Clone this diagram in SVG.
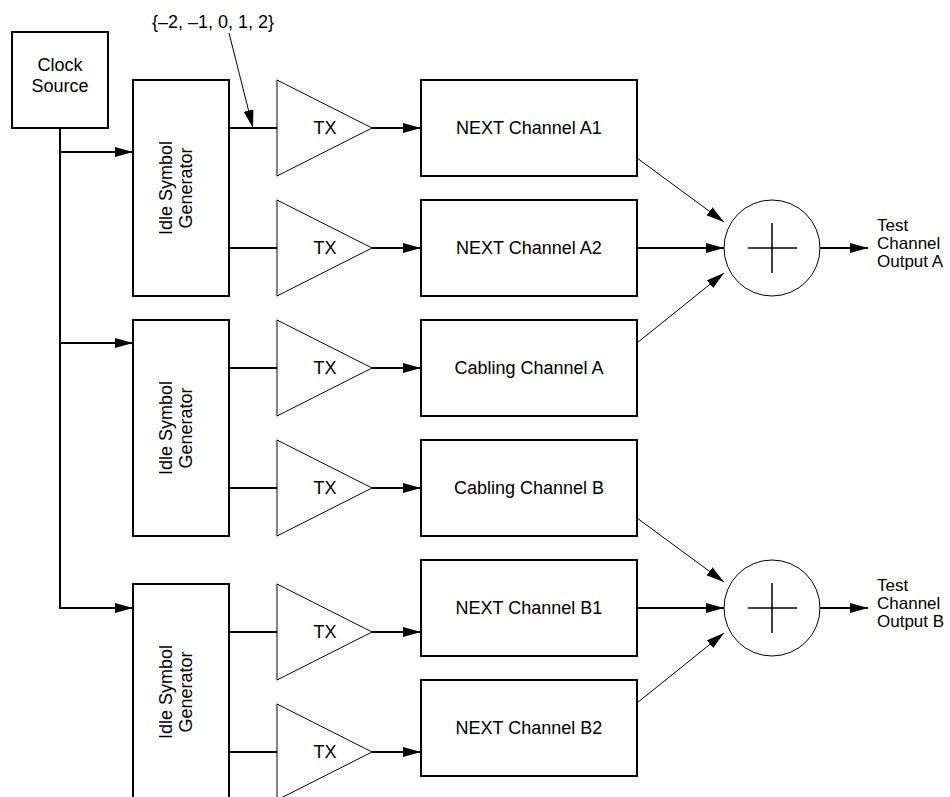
<svg xmlns="http://www.w3.org/2000/svg" width="950" height="797" viewBox="0 0 950 797">
<style>
  .box { fill: #fff; stroke: #000; stroke-width: 2; }
  .tri { fill: #fff; stroke: #000; stroke-width: 1; }
  .sum { fill: #fff; stroke: #000; stroke-width: 1; }
  .plus { stroke: #000; stroke-width: 1.5; fill: none; }
  .w { fill: none; stroke: #000; stroke-width: 2; }
  .t { fill: none; stroke: #000; stroke-width: 1; }
  .a { marker-end: url(#ah); }
  text { font-family: "Liberation Sans", Arial, sans-serif; font-size: 18px; fill: #000; }
  .c { text-anchor: middle; }
  .o { font-size: 17px; }
</style>
<defs>
  <marker id="ah" viewBox="0 0 18 10" refX="18" refY="5" markerWidth="18" markerHeight="10" markerUnits="userSpaceOnUse" orient="auto">
    <path d="M0,0 L18,5 L0,10 z" fill="#000"/>
  </marker>
</defs>

<g id="connectors">
  <path class="w" d="M60,128 V608 H133"/>
  <path class="w a" d="M60,608 H133"/>
  <path class="w a" d="M60,152 H133"/>
  <path class="w a" d="M60,343 H133"/>
  <path class="w" d="M229,128 H277 M229,248 H277 M229,368 H277 M229,488 H277 M229,632 H277 M229,752 H277"/>
  <path class="w a" d="M372,128 H421"/>
  <path class="w a" d="M372,248 H421"/>
  <path class="w a" d="M372,368 H421"/>
  <path class="w a" d="M372,488 H421"/>
  <path class="w a" d="M372,632 H421"/>
  <path class="w a" d="M372,752 H421"/>
  <path class="t a" d="M637,158 L724,222"/>
  <path class="w a" d="M637,248 H724"/>
  <path class="t a" d="M637,343 L724,273"/>
  <path class="t a" d="M637,518 L724,582"/>
  <path class="w a" d="M637,608 H724"/>
  <path class="t a" d="M637,703 L724,633"/>
  <path class="w a" d="M820,248 H868"/>
  <path class="w a" d="M820,608 H868"/>
  <path class="t a" d="M229,33 L253,128"/>
</g>

<g id="clock">
  <rect class="box" x="12" y="32" width="96" height="96"/>
  <text class="c" x="60" y="71">Clock</text>
  <text class="c" x="60" y="92">Source</text>
</g>

<g id="gen1">
  <rect class="box" x="133" y="80" width="96" height="216"/>
  <g transform="translate(181,188) rotate(-90)">
    <text class="c" x="0" y="-9">Idle Symbol</text>
    <text class="c" x="0" y="11">Generator</text>
  </g>
</g>
<g id="gen2">
  <rect class="box" x="133" y="320" width="96" height="216"/>
  <g transform="translate(181,428) rotate(-90)">
    <text class="c" x="0" y="-9">Idle Symbol</text>
    <text class="c" x="0" y="11">Generator</text>
  </g>
</g>
<g id="gen3">
  <rect class="box" x="133" y="584" width="96" height="216"/>
  <g transform="translate(181,692) rotate(-90)">
    <text class="c" x="0" y="-9">Idle Symbol</text>
    <text class="c" x="0" y="11">Generator</text>
  </g>
</g>

<g id="tx1"><polygon class="tri" points="277,80 372,128 277,176"/><text class="c" x="325" y="134">TX</text></g>
<g id="tx2"><polygon class="tri" points="277,200 372,248 277,296"/><text class="c" x="325" y="254">TX</text></g>
<g id="tx3"><polygon class="tri" points="277,320 372,368 277,416"/><text class="c" x="325" y="374">TX</text></g>
<g id="tx4"><polygon class="tri" points="277,440 372,488 277,536"/><text class="c" x="325" y="494">TX</text></g>
<g id="tx5"><polygon class="tri" points="277,584 372,632 277,680"/><text class="c" x="325" y="638">TX</text></g>
<g id="tx6"><polygon class="tri" points="277,704 372,752 277,800"/><text class="c" x="325" y="758">TX</text></g>

<g id="nextA1"><rect class="box" x="421" y="80" width="216" height="96"/><text class="c" x="529" y="134">NEXT Channel A1</text></g>
<g id="nextA2"><rect class="box" x="421" y="200" width="216" height="96"/><text class="c" x="529" y="254">NEXT Channel A2</text></g>
<g id="cablingA"><rect class="box" x="421" y="320" width="216" height="96"/><text class="c" x="529" y="374">Cabling Channel A</text></g>
<g id="cablingB"><rect class="box" x="421" y="440" width="216" height="96"/><text class="c" x="529" y="494">Cabling Channel B</text></g>
<g id="nextB1"><rect class="box" x="421" y="560" width="216" height="96"/><text class="c" x="529" y="614">NEXT Channel B1</text></g>
<g id="nextB2"><rect class="box" x="421" y="680" width="216" height="96"/><text class="c" x="529" y="734">NEXT Channel B2</text></g>

<g id="sumA">
  <circle class="sum" cx="772" cy="248" r="48"/>
  <path class="plus" d="M748,248 H797 M772,223 V273"/>
</g>
<g id="sumB">
  <circle class="sum" cx="772" cy="608" r="48"/>
  <path class="plus" d="M748,608 H797 M772,583 V633"/>
</g>

<g id="outA">
  <text class="o" x="877" y="231">Test</text>
  <text class="o" x="877" y="249">Channel</text>
  <text class="o" x="877" y="267">Output A</text>
</g>
<g id="outB">
  <text class="o" x="877" y="591">Test</text>
  <text class="o" x="877" y="609">Channel</text>
  <text class="o" x="877" y="627">Output B</text>
</g>

<g id="label">
  <text class="c" x="213" y="28">{–2, –1, 0, 1, 2}</text>
</g>
</svg>
